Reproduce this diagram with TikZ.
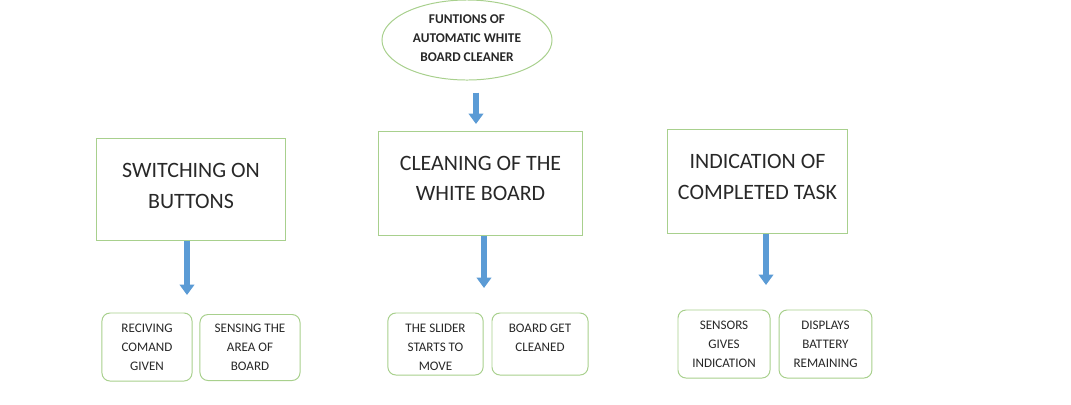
\documentclass[tikz,border=0pt]{standalone}
\usepackage{fontspec}
\setmainfont{Carlito}
\usetikzlibrary{shapes.geometric,arrows.meta}
\definecolor{boxgreen}{RGB}{168,208,141}
\definecolor{arrowblue}{RGB}{91,155,213}
\definecolor{txtgray}{RGB}{40,40,40}

\begin{document}
\begin{tikzpicture}[x=0.025cm,y=-0.025cm,
  mainbox/.style={draw=boxgreen,line width=0.7pt,align=center,text=txtgray,inner sep=0pt,
    font=\fontsize{15.6}{21.8}\selectfont},
  subbox/.style={draw=boxgreen,line width=0.7pt,rounded corners=0.2cm,align=center,text=txtgray,
    inner sep=0pt,font=\fontsize{9.3}{13.6}\selectfont},
  blockarrow/.style={draw=arrowblue,line width=0.17cm,-{Triangle[width=0.36cm,length=0.26cm]}}]
 \useasboundingbox (0,0) rectangle (1071,404);
 \fill[white] (0,0) rectangle (1071,404);
 % top
 \node[ellipse,draw=boxgreen,line width=0.7pt,minimum width=4.25cm,minimum height=2cm,inner sep=0pt,
   align=center,text=txtgray,font=\bfseries\fontsize{9.5}{13.8}\selectfont] (title) at (467,40)
   {FUNTIONS OF\\AUTOMATIC WHITE\\BOARD CLEANER\\[-11pt]\mbox{}};
 % main boxes
 \node[mainbox,minimum width=4.7cm,minimum height=2.55cm] (switch) at (191,189) {SWITCHING ON\\BUTTONS\\[-17pt]\mbox{}};
 \node[mainbox,minimum width=5.12cm,minimum height=2.6cm] (clean) at (480.5,183) {CLEANING OF THE\\WHITE BOARD\\[-15pt]\mbox{}};
 \node[mainbox,minimum width=4.48cm,minimum height=2.58cm] (task) at (757.5,181.5) {INDICATION OF\\COMPLETED TASK\\[-15pt]\mbox{}};
 % sub boxes
 \node[subbox,minimum width=2.25cm,minimum height=1.7cm] (recv) at (147,347) {RECIVING\\COMAND\\GIVEN};
 \node[subbox,minimum width=2.5cm,minimum height=1.65cm] (sense) at (250,347.5) {SENSING THE\\AREA OF\\BOARD};
 \node[subbox,minimum width=2.38cm,minimum height=1.55cm] (slide) at (435.5,344) {\rule{0pt}{11pt}THE SLIDER\\STARTS TO\\MOVE};
 \node[subbox,minimum width=2.4cm,minimum height=1.55cm] (get) at (540,344) {BOARD GET\\CLEANED\\[-5pt]\mbox{}};
 \node[subbox,minimum width=2.3cm,minimum height=1.7cm] (sens) at (724,344) {SENSORS\\GIVES\\INDICATION};
 \node[subbox,minimum width=2.32cm,minimum height=1.7cm] (batt) at (825.5,344) {DISPLAYS\\BATTERY\\REMAINING};
 % arrows
 \coordinate (t0) at (476,124);
 \coordinate (t1) at (187,295);
 \coordinate (t2) at (484,288);
 \coordinate (t3) at (766,285);
 \draw[blockarrow,shorten <=0.3cm] (title.south -| t0) -- (t0);
 \draw[blockarrow] (switch.south -| t1) -- (t1);
 \draw[blockarrow] (clean.south -| t2) -- (t2);
 \draw[blockarrow] (task.south -| t3) -- (t3);
\end{tikzpicture}
\end{document}
